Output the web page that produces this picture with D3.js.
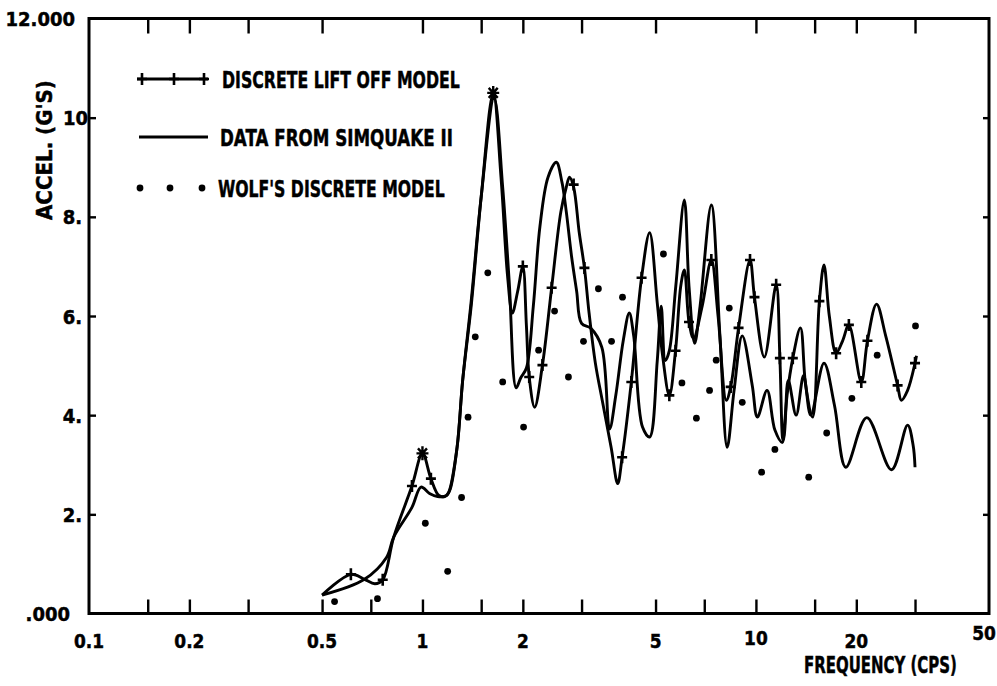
<!DOCTYPE html>
<html><head><meta charset="utf-8">
<script src="https://cdn.jsdelivr.net/npm/d3@7"></script>
<style>body{margin:0;background:#fff} svg{display:block}</style>
</head><body><svg id="c" width="997" height="686"></svg>
<script>
// ---- data ----
const liftFreq  = [0.5,0.61,0.67,0.72,0.76,0.82,0.93,1.0,1.06,1.12,1.17,1.2,1.27,1.32,1.4,1.5,1.63,1.72,1.8,1.86,1.93,2.0,2.05,2.09,2.17,2.29,2.44,2.6,2.7,2.76,2.84,2.95,3.06,3.16,3.3,3.46,3.68,3.85,3.97,4.23,4.54,4.8,5.06,5.25,5.5,5.74,5.95,6.1,6.3,6.5,6.9,7.35,7.7,8.15,8.4,8.87,9.6,9.9,10.6,11.5,11.8,12.05,12.4,12.9,13.6,14.1,14.8,15.5,16.0,16.6,17.4,18.2,19.0,20.7,21.6,23.0,24.5,26.6,27.3,28.5,30.0,30.3];
const liftAccel = [0.37,0.79,0.69,0.6,0.68,1.54,2.57,3.23,2.72,2.38,2.36,2.45,3.35,4.7,6.2,8.4,10.5,8.8,6.8,6.06,6.5,7.0,5.8,4.77,4.16,5.01,6.57,8.1,8.6,8.8,8.6,7.7,6.97,6.06,5.05,4.3,3.35,2.62,3.15,4.67,6.77,7.68,6.26,5.2,4.4,5.3,6.6,6.93,5.88,5.55,6.2,7.13,6.0,4.3,4.57,5.76,7.13,6.38,5.17,6.63,5.15,3.5,4.4,5.15,5.76,4.6,3.96,6.3,7.03,6.0,5.25,5.5,5.82,4.67,5.5,6.24,5.6,4.6,4.3,4.5,5.05,5.2];
const liftMarkFreq  = [0.61,0.76,0.93,1.06,2.0,2.09,2.29,2.44,2.84,3.06,3.97,4.23,4.54,5.5,5.74,6.3,7.35,8.4,8.87,9.6,9.9,11.5,11.8,12.9,15.5,17.4,19.0,20.7,21.6,26.6,30.0];
const liftMarkAccel = [0.79,0.68,2.57,2.72,7.0,4.77,5.01,6.57,8.65,6.97,3.15,4.67,6.77,4.4,5.3,5.88,7.13,4.57,5.76,7.13,6.38,6.63,5.15,5.15,6.3,5.25,5.82,4.67,5.5,4.6,5.05];
const liftStarFreq  = [1.0,1.63];
const liftStarAccel = [3.23,10.5];
const simFreq  = [0.5,0.67,0.78,0.82,0.93,0.99,1.05,1.11,1.18,1.21,1.27,1.32,1.4,1.5,1.64,1.74,1.82,1.91,1.97,2.05,2.15,2.25,2.38,2.52,2.62,2.7,2.8,2.9,3.0,3.2,3.45,3.64,3.8,4.0,4.17,4.3,4.57,4.8,5.06,5.2,5.35,5.5,5.75,6.1,6.3,6.55,6.8,7.35,7.8,8.2,8.6,9.1,9.75,10.1,10.8,11.4,12.0,12.5,13.2,13.9,14.6,16.0,17.2,18.6,21.5,25.5,28.5,29.6,30.0];
const simAccel = [0.37,0.69,1.13,1.54,2.14,2.55,2.42,2.36,2.38,2.5,3.35,4.7,6.3,8.4,10.4,8.6,6.7,4.55,4.75,4.95,6.2,7.8,8.8,9.1,8.7,8.1,7.2,6.5,5.85,5.75,5.37,3.72,4.4,5.5,6.06,5.6,3.76,3.56,5.1,6.2,5.1,5.3,6.6,8.34,6.6,5.45,6.2,8.24,5.6,3.35,4.5,5.6,4.6,3.96,4.5,3.7,3.45,4.7,4.0,4.8,4.0,5.05,4.2,2.95,3.95,2.9,3.8,3.4,2.95];
const wolfFreq  = [0.545,0.733,1.02,1.19,1.31,1.37,1.44,1.57,1.74,2.01,2.23,2.49,2.74,3.04,3.37,3.69,3.98,5.28,6.0,6.63,7.26,7.6,8.32,9.1,10.4,11.4,14.4,16.3,19.4,23.1,30.1];
const wolfAccel = [0.24,0.30,1.82,0.85,2.34,3.96,5.58,6.87,4.67,3.76,5.31,6.1,4.77,5.49,6.55,5.49,6.38,7.25,4.65,3.94,4.5,5.11,6.16,4.26,2.85,3.31,2.75,3.64,4.34,5.21,5.8];

const xTickValues    = [0.15,0.2,0.3,0.5,0.7,1,1.5,2,3,5,7,10,15,20,30];
const xTopTickValues = [0.15,0.2,0.3,0.5,1,1.5,2,3,5,10,15,20,30];
const xLabelValues   = [0.1,0.2,0.5,1,2,5,10,20,50];
const xLabelText     = ["0.1","0.2","0.5","1","2","5","10","20","50"];
const yTickValues    = [2,4,6,8,10];
const yLabelValues   = [0,2,4,6,8,10,12];
const yLabelText     = [".000","2.","4.","6.","8.","10","12.000"];
const legendLabels   = ["DISCRETE LIFT OFF MODEL","DATA FROM SIMQUAKE II","WOLF'S DISCRETE MODEL"];
const xTitle = "FREQUENCY (CPS)";
const yTitle = "ACCEL. (G'S)";

// ---- drawing ----
const FONT = "'DejaVu Sans', 'Liberation Sans', Arial, sans-serif";
const svg = d3.select("#c");
const x = d3.scaleLog().domain([0.1,50]).range([89,989]);
const y = d3.scaleLinear().domain([0,12]).range([613.5,18.5]);
const INK = "#000";

function styleTicks(g){ g.select(".domain").remove(); g.selectAll("line").attr("stroke",INK).attr("stroke-width",2.4); g.selectAll("text").remove(); }
function bold(t, size){ return t.attr("font-family",FONT).attr("font-weight","bold").attr("font-size",size)
  .attr("fill",INK).attr("stroke",INK).attr("stroke-width",0.5); }
// text squeezed horizontally to a target width
function fitText(parent, str, tx, ty, w, size, rot){
  const g = parent.append("g");
  const t = bold(g.append("text"), size).text(str);
  const nat = t.node().getComputedTextLength();
  g.attr("transform", `translate(${tx},${ty})` + (rot?` rotate(${rot})`:"") + ` scale(${w/nat},1)`);
  return t;
}

svg.append("g").attr("transform",`translate(0,${y(0)})`)
  .call(d3.axisBottom(x).tickValues(xTickValues).tickSize(-14)).call(styleTicks);
svg.append("g").attr("transform",`translate(0,${y(12)})`)
  .call(d3.axisTop(x).tickValues(xTopTickValues).tickSize(-15)).call(styleTicks);
svg.append("g").attr("transform",`translate(${x(0.1)},0)`)
  .call(d3.axisLeft(y).tickValues(yTickValues).tickSize(-7)).call(styleTicks);
svg.append("g").attr("transform",`translate(${x(50)},0)`)
  .call(d3.axisRight(y).tickValues(yTickValues).tickSize(-6)).call(styleTicks);

svg.append("rect").attr("x",x(0.1)).attr("y",y(12)).attr("width",x(50)-x(0.1)).attr("height",y(0)-y(12))
  .attr("fill","none").attr("stroke",INK).attr("stroke-width",3);

// tick labels
bold(svg.append("g").selectAll("g").data(xLabelValues).join("g")
  .attr("transform",d=>`translate(${Math.min(x(d),984)},${d===50?640:(d===10?645:648)})`)
  .append("text").attr("transform","scale(0.85,1)").attr("text-anchor","middle"), 20)
  .text((d,i)=>xLabelText[i]);

bold(svg.append("g").selectAll("g").data(yLabelValues).join("g")
  .attr("transform",d=>{
     const ex = d===12?75:(d===0?70:(d===10?88:82));
     return `translate(${ex},${y(d)+7.5})`;})
  .append("text").attr("transform","scale(0.9,1)").attr("text-anchor","end"), 20)
  .text((d,i)=>yLabelText[i]);

// axis titles
fitText(svg, xTitle, 804, 673, 153, 23);
fitText(svg, yTitle, 52, 220, 140, 22, -90);

// series
const line = d3.line().x(d=>x(d[0])).y(d=>y(d[1])).curve(d3.curveCatmullRom.alpha(0.5));
const liftData = liftFreq.map((f,i)=>[f,liftAccel[i]]);
const simData  = simFreq.map((f,i)=>[f,simAccel[i]]);
svg.append("path").attr("d",line(simData)).attr("fill","none").attr("stroke",INK).attr("stroke-width",2.9).attr("stroke-linejoin","round");
svg.append("path").attr("d",line(liftData)).attr("fill","none").attr("stroke",INK).attr("stroke-width",2.9).attr("stroke-linejoin","round");

const plusPath = "M-5,0H5M0,-6V6";
const starPath = "M-6,0H6M0,-7V7M-4.5,-5L4.5,5M-4.5,5L4.5,-5";
svg.append("g").selectAll("path").data(liftMarkFreq).join("path")
  .attr("transform",(d,i)=>`translate(${x(d)},${y(liftMarkAccel[i])})`)
  .attr("d",plusPath).attr("stroke",INK).attr("stroke-width",2.6).attr("fill","none");
svg.append("g").selectAll("path").data(liftStarFreq).join("path")
  .attr("transform",(d,i)=>`translate(${x(d)},${y(liftStarAccel[i])})`)
  .attr("d",starPath).attr("stroke",INK).attr("stroke-width",2.4).attr("fill","none");

svg.append("g").selectAll("circle").data(wolfFreq).join("circle")
  .attr("cx",d=>x(d)).attr("cy",(d,i)=>y(wolfAccel[i])).attr("r",3.4).attr("fill",INK);

// legend
const lg = svg.append("g");
const rowsY = [79,137,188];
const textX = [222,220,218], textW = [238,233,227];
lg.append("line").attr("x1",137).attr("x2",208).attr("y1",rowsY[0]).attr("y2",rowsY[0]).attr("stroke",INK).attr("stroke-width",2.9);
[142,174,204].forEach(px=>lg.append("path").attr("transform",`translate(${px},${rowsY[0]})`).attr("d",plusPath).attr("stroke",INK).attr("stroke-width",2.6));
lg.append("line").attr("x1",139).attr("x2",208).attr("y1",rowsY[1]).attr("y2",rowsY[1]).attr("stroke",INK).attr("stroke-width",2.9);
[140,170,202].forEach(px=>lg.append("circle").attr("cx",px).attr("cy",rowsY[2]).attr("r",3.4).attr("fill",INK));
legendLabels.forEach((s,i)=>fitText(lg, s, textX[i], rowsY[i]+9, textW[i], 23));
</script></body></html>
